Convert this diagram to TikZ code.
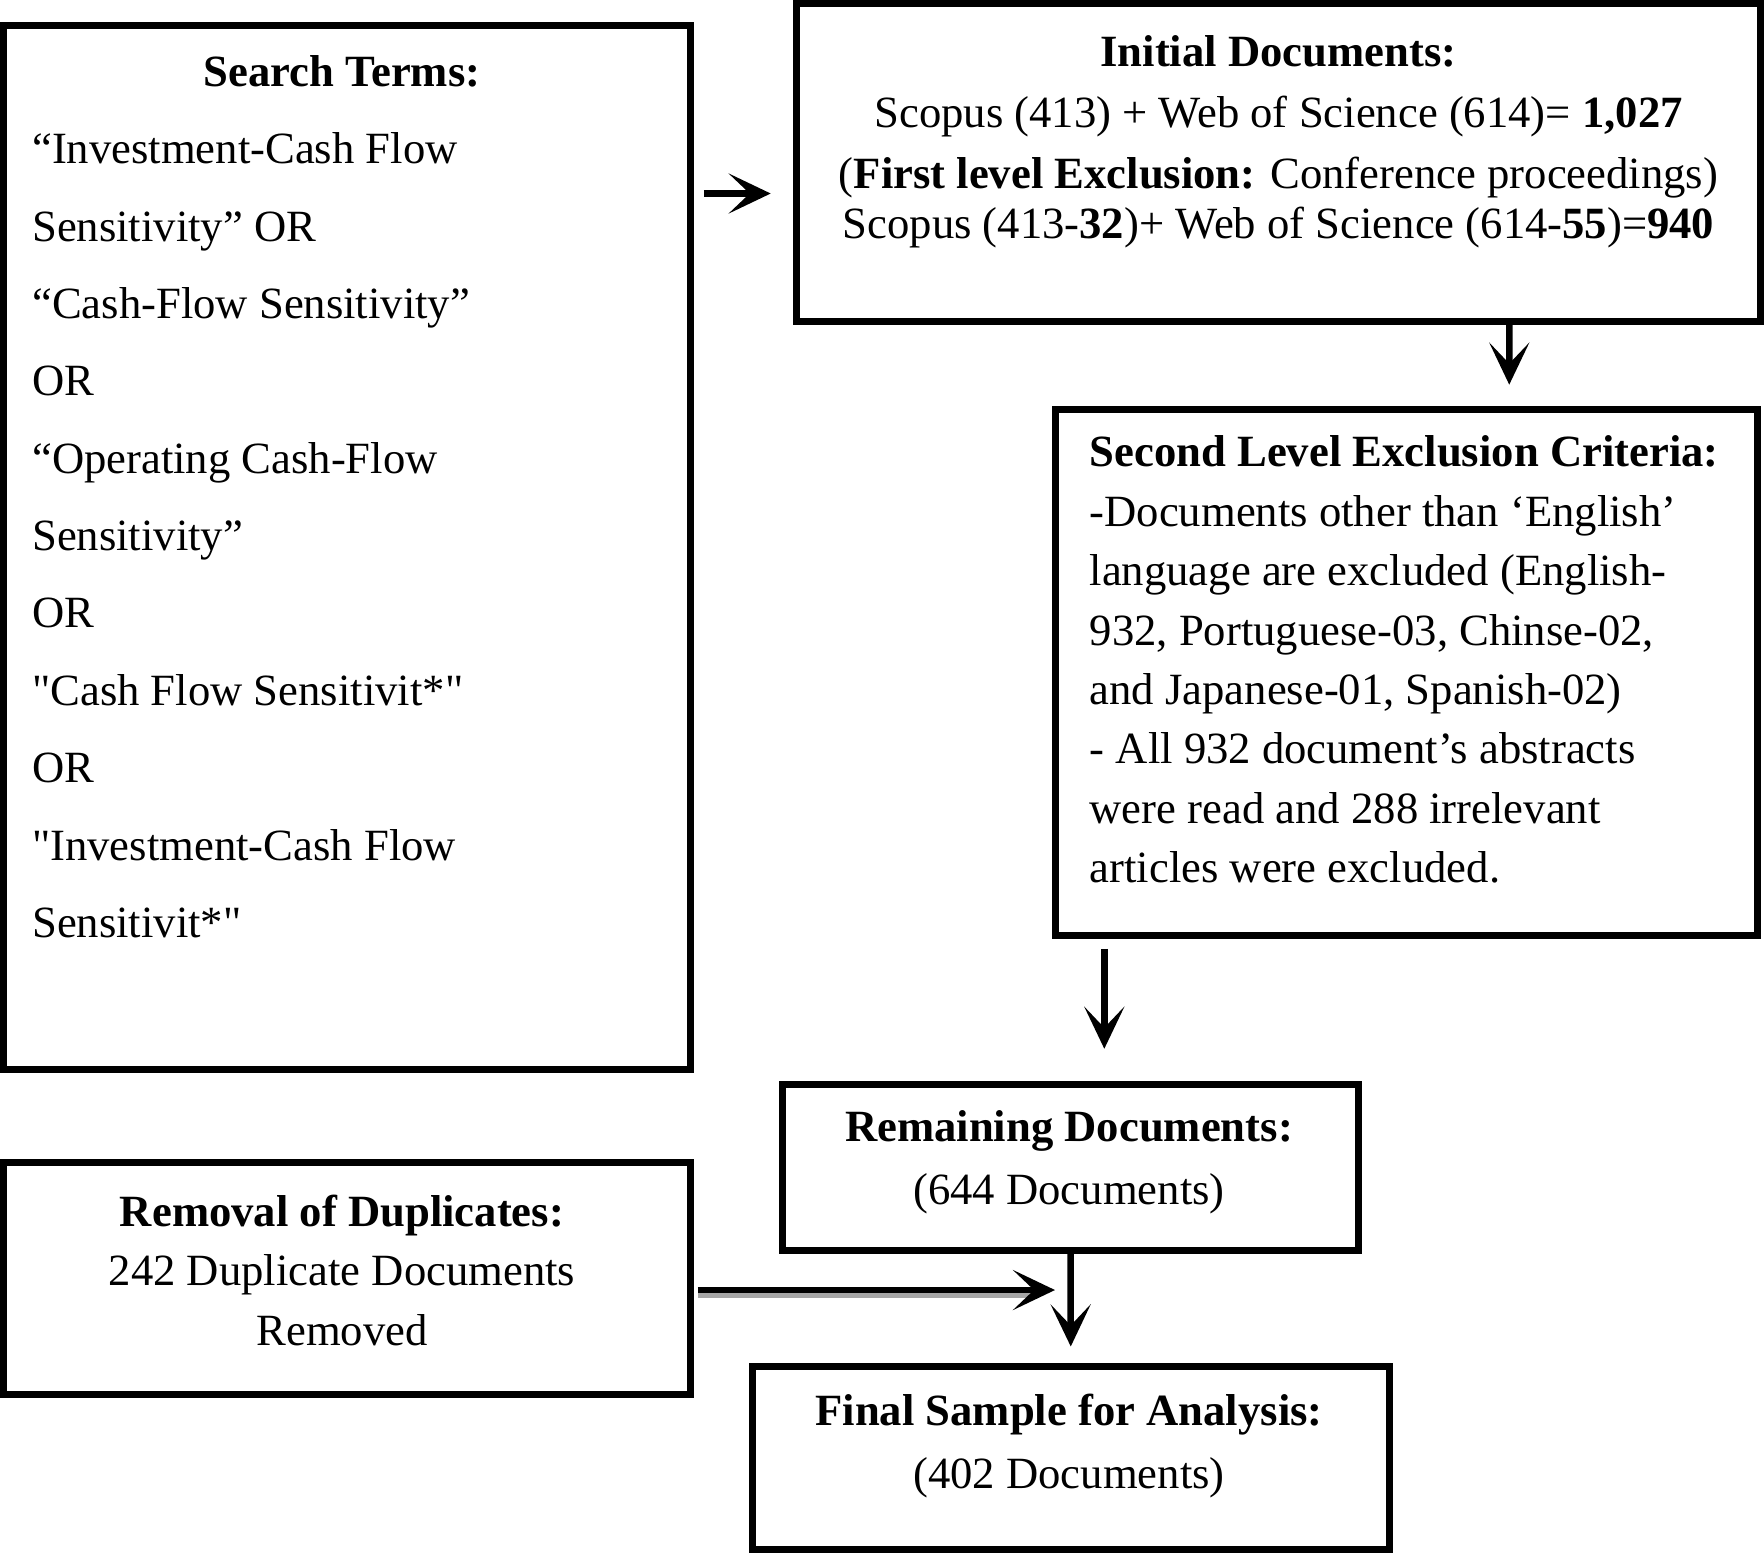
\documentclass[tikz,border=0pt]{standalone}
\usepackage{fontspec}
\setmainfont{Liberation Serif}
\usetikzlibrary{arrows.meta, positioning, calc}
\newcommand\boxfont[1]{\fontsize{12.7}{#1}\selectfont}

\begin{document}
\begin{tikzpicture}[
  x=0.01cm, y=-0.01cm,
  box/.style={draw, line width=0.7mm, inner sep=0pt},
  txt/.style={inner sep=0pt, align=#1},
  txt/.default=center,
  arr/.style={-{Stealth[length=4.2mm, width=4mm, inset=2.1mm]}, line width=0.65mm}
]
\useasboundingbox (0,0) rectangle (1764,1553);

\node[box, minimum width=6.87cm, minimum height=10.43cm] (search) at (346.7,547.5) {};
\node[box, minimum width=9.64cm, minimum height=3.18cm] (initial) at (1278.5,162.6) {};
\node[box, minimum width=7.01cm, minimum height=5.26cm] (second) at (1406.5,672.3) {};
\node[box, minimum width=5.75cm, minimum height=1.66cm] (remaining) at (1070.5,1167.3) {};
\node[box, minimum width=6.87cm, minimum height=2.31cm] (removal) at (346.7,1278.5) {};
\node[box, minimum width=6.36cm, minimum height=1.82cm] (final) at (1070.8,1458) {};

\node[txt, anchor=north, font=\boxfont{17}] (searchhead) at (342,55) {\textbf{Search Terms:}};
\node[txt=left, anchor=north west, font=\boxfont{22}] (searchterms) at (31.5,132)
  {“Investment-Cash Flow\\ Sensitivity” OR\\ “Cash-Flow Sensitivity”\\ OR\\
   “Operating Cash-Flow\\ Sensitivity”\\ OR\\ \textquotedbl Cash Flow Sensitivit*\textquotedbl\\ OR\\
   \textquotedbl Investment-Cash Flow\\ Sensitivit*\textquotedbl};
\node[txt, anchor=north, font=\boxfont{17.3}] (initialtxt) at (1278.5,35)
  {\textbf{Initial Documents:}\\
   Scopus (413) + Web of Science (614)= \textbf{1,027}\\
   (\textbf{First level Exclusion:} Conference proceedings)\\[-3pt]
   Scopus (413-\textbf{32})+ Web of Science (614-\textbf{55})=\textbf{940}};
\node[txt=left, anchor=north west, font=\boxfont{16.9}] (secondtxt) at (1089,435)
  {\textbf{Second Level Exclusion Criteria:}\\
   -Documents other than ‘English’\\
   language are excluded (English-\\
   932, Portuguese-03, Chinse-02,\\
   and Japanese-01, Spanish-02)\\
   - All 932 document’s abstracts\\
   were read and 288 irrelevant\\
   articles were excluded.};
\node[txt, anchor=north, font=\boxfont{17.9}] (remainingtxt) at (1069,1110)
  {\textbf{Remaining Documents:}\\ (644 Documents)};
\node[txt, anchor=north, font=\boxfont{17}] (removaltxt) at (342,1194)
  {\textbf{Removal of Duplicates:}\\ 242 Duplicate Documents\\ Removed};
\node[txt, anchor=north, font=\boxfont{17.9}] (finaltxt) at (1069,1393)
  {\textbf{Final Sample for Analysis:}\\ (402 Documents)};

\draw[arr, shorten <=1mm, shorten >=2.2mm] ($(search.east |- initial.west)+(0,30.9)$) -- ($(initial.west)+(0,30.9)$);
\draw[arr, shorten >=2.1mm] ($(initial.south east)+(-255,0)$) -- ($(second.north east)+(-251.5,0)$);
\draw[arr, shorten <=1mm, shorten >=3.2mm] ($(second.south west)+(52,0)$) -- ($(second.south west |- remaining.north)+(52,0)$);
\draw[arr, shorten >=1.7mm] (remaining.south) -- (final.north);
\draw[gray!70, line width=0.5mm] ($(removal.east)+(4,17)$) -- ($(removal.east -| remaining.south)+(-40,17)$);
\draw[arr, shorten <=0.4mm, shorten >=1.55mm] ($(removal.east)+(0,11.5)$) -- ($(removal.east -| remaining.south)+(0,11.5)$);
\end{tikzpicture}
\end{document}
